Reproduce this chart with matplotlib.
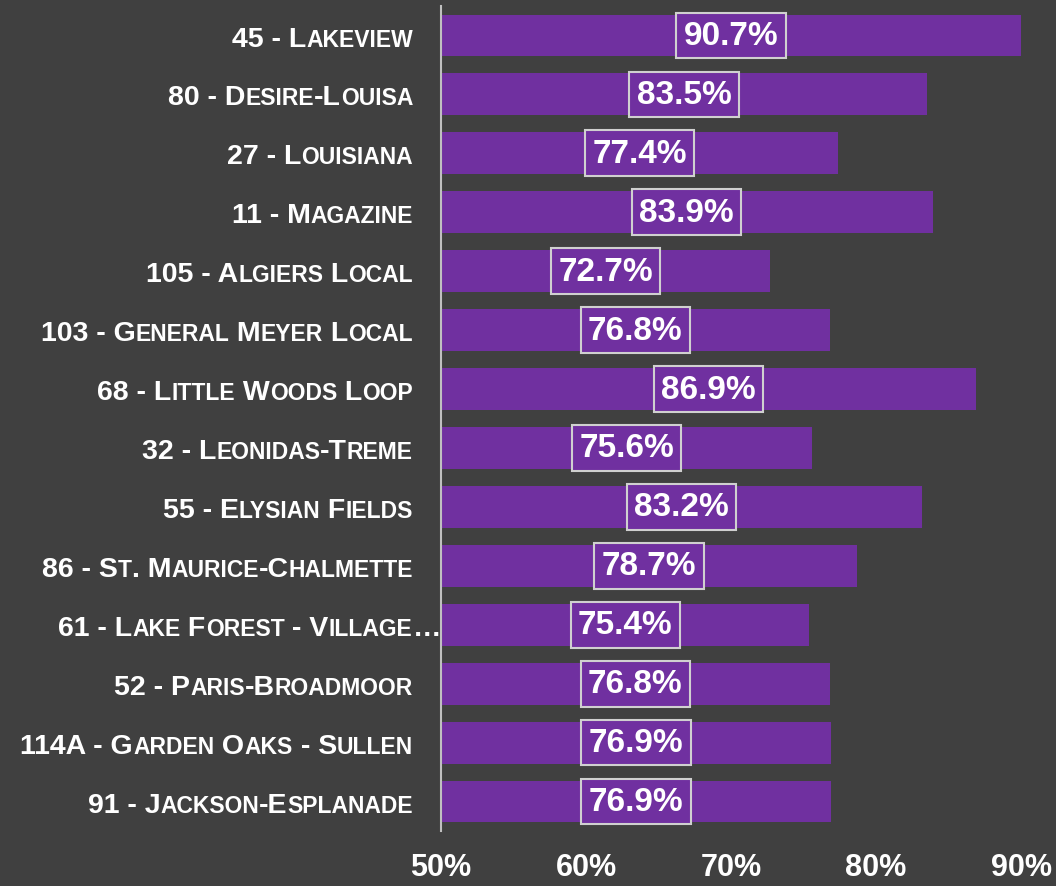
import matplotlib
matplotlib.use("Agg")
import matplotlib.pyplot as plt
from matplotlib.offsetbox import TextArea, HPacker, AnnotationBbox
from matplotlib import font_manager

routes = ["45 - Lakeview", "80 - Desire-Louisa", "27 - Louisiana", "11 - Magazine",
          "105 - Algiers Local", "103 - General Meyer Local", "68 - Little Woods Loop",
          "32 - Leonidas-Treme", "55 - Elysian Fields", "86 - St. Maurice-Chalmette",
          "61 - Lake Forest - Village\u2026", "52 - Paris-Broadmoor",
          "114A - Garden Oaks - Sullen", "91 - Jackson-Esplanade"]
values = [90.7, 83.5, 77.4, 83.9, 72.7, 76.8, 86.9, 75.6, 83.2, 78.7, 75.4, 76.8, 76.9, 76.9]
xticks = [50, 60, 70, 80, 90]
xticklabels = ["50%", "60%", "70%", "80%", "90%"]

BG = "#404040"
BAR = "#7030a0"
XMIN, XMAX = 50, 90

names = {f.name for f in font_manager.fontManager.ttflist}
narrow = "Liberation Sans Narrow" if "Liberation Sans Narrow" in names else "Liberation Sans"

fig = plt.figure(figsize=(10.56, 8.87), dpi=100, facecolor=BG)
ax = fig.add_axes([441/1056, 55/887, 580/1056, 825/887])
ax.set_facecolor(BG)

ypos = list(range(len(routes)))
ax.barh(ypos, values, left=0, height=0.71, color=BAR, zorder=2)
ax.set_xlim(XMIN, XMAX)
ax.set_ylim(len(routes) - 0.5, -0.5)

for y, v in zip(ypos, values):
    xc = (XMIN + min(v, XMAX)) / 2
    ax.text(xc, y, f"{v:.1f}%", ha="center", va="center", color="white",
            fontsize=24, fontweight="bold", family="Liberation Sans", zorder=4,
            bbox=dict(boxstyle="square,pad=0.22", fc=BAR, ec="#d0d0d0", lw=1.5))

for s in ["top", "right", "bottom"]:
    ax.spines[s].set_visible(False)
ax.spines["left"].set_color("#c0c0c0")
ax.spines["left"].set_linewidth(1.5)
ax.spines["left"].set_zorder(5)

ax.set_yticks([])
ax.set_xticks(xticks)
ax.set_xticklabels(xticklabels)
ax.tick_params(axis="x", length=0, pad=15, colors="white")
for lab in ax.get_xticklabels():
    lab.set_fontsize(22)
    lab.set_fontweight("bold")
    lab.set_family(narrow)


def smallcaps(text, big=20.5, small=16.5):
    runs = []
    for ch in text:
        is_small = ch.islower()
        if runs and runs[-1][0] == is_small:
            runs[-1][1] += ch
        else:
            runs.append([is_small, ch])
    boxes = []
    for is_small, s in runs:
        boxes.append(TextArea(s.upper(), textprops=dict(
            color="white", fontsize=small if is_small else big,
            fontweight="bold", family="Liberation Sans")))
    return HPacker(children=boxes, align="baseline", pad=0, sep=0)


for y, name in zip(ypos, routes):
    off = 0 if name.endswith("\u2026") else -28 * 0.72
    ab = AnnotationBbox(smallcaps(name), (0, y), xycoords=("axes fraction", "data"),
                        xybox=(off, -2.2), boxcoords="offset points",
                        box_alignment=(1, 0.5), frameon=False, annotation_clip=False)
    ax.add_artist(ab)

fig.savefig("out.png", dpi=100, facecolor=BG)
